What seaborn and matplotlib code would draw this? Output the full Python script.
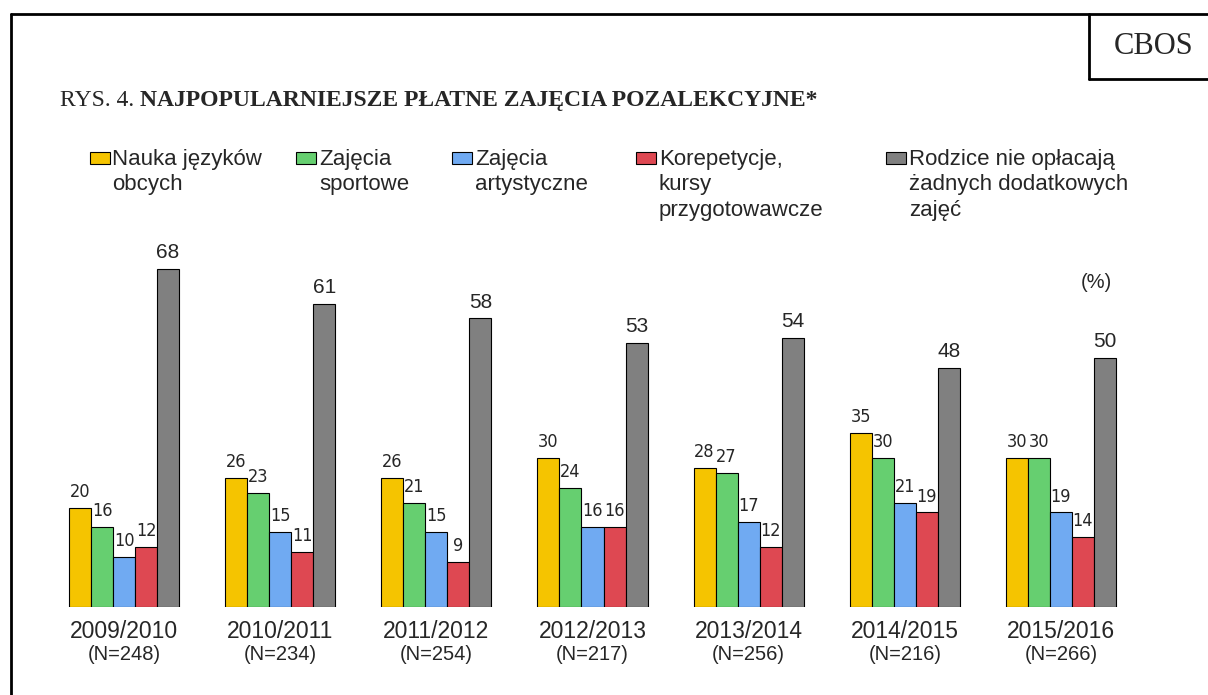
import pandas as pd
import matplotlib
matplotlib.use('Agg')
import matplotlib.pyplot as plt
from matplotlib import font_manager
from matplotlib.patches import Rectangle
from matplotlib.lines import Line2D
import seaborn as sns

years = ['2009/2010', '2010/2011', '2011/2012', '2012/2013', '2013/2014', '2014/2015', '2015/2016']
sizes = ['(N=248)', '(N=234)', '(N=254)', '(N=217)', '(N=256)', '(N=216)', '(N=266)']
series = ['Nauka języków\nobcych', 'Zajęcia\nsportowe', 'Zajęcia\nartystyczne',
          'Korepetycje,\nkursy\nprzygotowawcze', 'Rodzice nie opłacają\nżadnych dodatkowych\nzajęć']
jezyki = [20, 26, 26, 30, 28, 35, 30]
sport = [16, 23, 21, 24, 27, 30, 30]
sztuka = [10, 15, 15, 16, 17, 21, 19]
korepetycje = [12, 11, 9, 16, 12, 19, 14]
nic = [68, 61, 58, 53, 54, 48, 50]
colors = ['#F5C400', '#66CF70', '#70AAF2', '#DE4852', '#808080']

rows = []
for name, vals in zip(series, [jezyki, sport, sztuka, korepetycje, nic]):
    for y, v in zip(years, vals):
        rows.append({'rok': y, 'seria': name, 'proc': v})
df = pd.DataFrame(rows)

sns.set_style('white')
plt.rcParams['font.family'] = ['Liberation Sans', 'DejaVu Sans']

# narrow font for the small value labels, if one is installed
fonts = font_manager.fontManager.ttflist
narrow = dict(family='Liberation Sans', fontsize=13)
if any(f.name == 'Liberation Sans Narrow' for f in fonts):
    narrow = dict(family='Liberation Sans Narrow', fontsize=15)
elif any(f.name == 'DejaVu Sans' and f.stretch == 'condensed' for f in fonts):
    narrow = dict(family='DejaVu Sans', fontstretch='condensed', fontsize=13)

W, H = 1208, 695
fig = plt.figure(figsize=(W / 100, H / 100), dpi=100)
fx = lambda px: px / W
fy = lambda py: 1 - py / H

ax = fig.add_axes([fx(46), fy(607), fx(1093), (607 - 209) / H])
sns.barplot(data=df, x='rok', y='proc', hue='seria', order=years, hue_order=series,
            palette=colors, saturation=1, width=0.705, edgecolor='black', linewidth=0.8,
            errorbar=None, legend=False, ax=ax)
ax.set_xlim(-0.5, 6.5)
ax.set_ylim(0, 80)
for s in ax.spines.values():
    s.set_visible(False)
ax.set_yticks([])
ax.set_xlabel('')
ax.set_ylabel('')
ax.tick_params(axis='x', length=0, pad=9, labelsize=16.5)

for i, cont in enumerate(ax.containers):
    if i < 4:
        ax.bar_label(cont, padding=5, **narrow)
    else:
        ax.bar_label(cont, padding=5, fontsize=15)

for i, n in enumerate(sizes):
    ax.text(i, -0.12, n, transform=ax.get_xaxis_transform(), ha='center', va='center', fontsize=14.5)

ax.text(fx(1096), fy(283), '(%)', transform=fig.transFigure, ha='center', va='center', fontsize=14.5)

# legend
sq_x = [89.5, 296, 452, 636, 886]
for x, c, lab in zip(sq_x, colors, series):
    fig.patches.append(Rectangle((fx(x), fy(164)), 20 / W, 12 / H, transform=fig.transFigure,
                                 facecolor=c, edgecolor='black', linewidth=0.8))
    fig.text(fx(x + 23), fy(149), lab, ha='left', va='top', fontsize=16, linespacing=1.27)

# title
t1 = fig.text(fx(60), fy(106), 'RYS. 4. ', family='Liberation Serif', fontsize=17, va='baseline')
plt.annotate('NAJPOPULARNIEJSZE PŁATNE ZAJĘCIA POZALEKCYJNE*', xy=(1, 0), xycoords=t1,
             ha='left', va='bottom', family='Liberation Serif', fontsize=17, fontweight='bold',
             annotation_clip=False)

# frame and CBOS box
lw = 2
fig.add_artist(Line2D([fx(10.5), fx(10.5)], [0, fy(13.5)], color='black', lw=lw, transform=fig.transFigure))
fig.add_artist(Line2D([fx(10.5), 1], [fy(13.5), fy(13.5)], color='black', lw=lw, transform=fig.transFigure))
fig.add_artist(Line2D([fx(1089), fx(1089)], [fy(13.5), fy(79)], color='black', lw=lw, transform=fig.transFigure))
fig.add_artist(Line2D([fx(1089), 1], [fy(79), fy(79)], color='black', lw=lw, transform=fig.transFigure))
fig.text(fx(1154), fy(46), 'CBOS', family='Liberation Serif', fontsize=22, ha='center', va='center')

fig.savefig('out.png', dpi=100)
